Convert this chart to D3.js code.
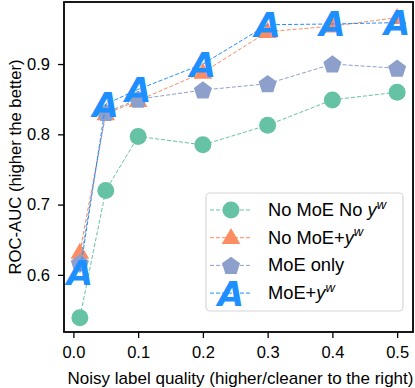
<!DOCTYPE html>
<html>
<head>
<meta charset="utf-8">
<script src="https://cdn.jsdelivr.net/npm/d3@7"></script>
<style>
  body { margin: 0; background: white; }
  text { font-family: "Liberation Sans", Arial, sans-serif; fill: black; }
</style>
</head>
<body>
<svg id="chart" width="415" height="388"></svg>
<script>
// noisy label quality
var xs = [0.01, 0.05, 0.1, 0.2, 0.3, 0.4, 0.5];
var noMoeNoYw = [0.539, 0.720, 0.797, 0.785, 0.813, 0.849, 0.860];
var noMoeYw   = [0.632, 0.829, 0.848, 0.888, 0.946, 0.954, 0.966];
var moeOnly   = [0.617, 0.831, 0.850, 0.863, 0.872, 0.900, 0.894];
var moeYw     = [0.603, 0.843, 0.864, 0.900, 0.956, 0.957, 0.959];
var xTicks = [0.0, 0.1, 0.2, 0.3, 0.4, 0.5];
var yTicks = [0.6, 0.7, 0.8, 0.9];

var series = [
  {name: "No MoE No ", sup: "w", values: noMoeNoYw, color: "#66c2a5", marker: "circle"},
  {name: "No MoE+", sup: "w", values: noMoeYw, color: "#fc8d62", marker: "triangle"},
  {name: "MoE only", sup: null, values: moeOnly, color: "#8da0cb", marker: "pentagon"},
  {name: "MoE+", sup: "w", values: moeYw, color: "#1e8fff", marker: "A"}
];

var svg = d3.select("#chart");
var pLeft = 64, pRight = 413, pTop = 2, pBottom = 332;

var x = d3.scaleLinear().domain([-0.0145, 0.5245]).range([pLeft, pRight]);
var y = d3.scaleLinear().domain([0.5187, 0.9883]).range([pBottom, pTop]);

// markers
function drawMarker(g, kind, color) {
  if (kind == "circle") {
    g.append("circle").attr("r", 8.5).attr("fill", color);
  }
  else if (kind == "triangle") {
    g.append("path").attr("d", d3.symbol().type(d3.symbolTriangle).size(150)).attr("fill", color)
      .attr("transform", "translate(0,1)");
  }
  else if (kind == "pentagon") {
    var pts = [];
    for (var i = 0; i < 5; i++) {
      var a = -Math.PI/2 + i*2*Math.PI/5;
      pts.push([9.5*Math.cos(a), 9.5*Math.sin(a) + 0.8]);
    }
    g.append("path").attr("d", "M" + pts.join("L") + "Z").attr("fill", color);
  }
  else {
    g.append("text")
      .attr("text-anchor", "middle")
      .attr("y", 12.5)
      .style("font-family", "DejaVu Sans")
      .style("font-weight", "bold")
      .style("font-style", "italic")
      .style("font-size", "34px")
      .style("fill", color)
      .text("A");
  }
}

var line = d3.line().x(function(d) { return x(d[0]); }).y(function(d) { return y(d[1]); });

series.forEach(function(s) {
  var pts = xs.map(function(v, i) { return [v, s.values[i]]; });
  svg.append("path")
    .attr("d", line(pts))
    .attr("fill", "none")
    .attr("stroke", s.color)
    .attr("stroke-width", 1)
    .attr("stroke-dasharray", "4,2");
  pts.forEach(function(p) {
    var g = svg.append("g").attr("transform", "translate(" + x(p[0]) + "," + y(p[1]) + ")");
    drawMarker(g, s.marker, s.color);
  });
});

// axes
var xAxis = svg.append("g").attr("transform", "translate(0," + pBottom + ")")
  .call(d3.axisBottom(x).tickValues(xTicks).tickFormat(d3.format(".1f")).tickSizeOuter(0).tickSize(6).tickPadding(8));
var yAxis = svg.append("g").attr("transform", "translate(" + pLeft + ",0)")
  .call(d3.axisLeft(y).tickValues(yTicks).tickFormat(d3.format(".1f")).tickSizeOuter(0).tickSize(6).tickPadding(8));
[xAxis, yAxis].forEach(function(a) {
  a.select(".domain").remove();
  a.selectAll("line").attr("stroke", "black").attr("stroke-width", 1.3);
  a.selectAll("text").style("font-family", "Liberation Sans, Arial, sans-serif").style("font-size", "16.5px");
});

svg.append("rect")
  .attr("x", pLeft).attr("y", pTop)
  .attr("width", pRight - pLeft).attr("height", pBottom - pTop)
  .attr("fill", "none").attr("stroke", "black").attr("stroke-width", 1.8);

svg.append("text")
  .attr("x", (pLeft + pRight)/2 + 2).attr("y", 384)
  .attr("text-anchor", "middle")
  .style("font-size", "17px")
  .text("Noisy label quality (higher/cleaner to the right)");

svg.append("text")
  .attr("transform", "translate(20.5," + ((pTop + pBottom)/2) + ") rotate(-90)")
  .attr("text-anchor", "middle")
  .style("font-size", "16.7px")
  .text("ROC-AUC (higher the better)");

// legend
var legend = svg.append("g");
legend.append("rect")
  .attr("x", 206).attr("y", 193).attr("width", 197).attr("height", 118)
  .attr("rx", 4).attr("ry", 4)
  .attr("fill", "white").attr("fill-opacity", 0.8)
  .attr("stroke", "#d6d6d6").attr("stroke-width", 1.2);

series.forEach(function(s, i) {
  var ly = 210 + i*27.7;
  legend.append("line")
    .attr("x1", 210).attr("x2", 252).attr("y1", ly).attr("y2", ly)
    .attr("stroke", s.color).attr("stroke-width", 1).attr("stroke-dasharray", "4,2");
  var g = legend.append("g").attr("transform", "translate(231," + ly + ")");
  drawMarker(g, s.marker, s.color);
  var t = legend.append("text")
    .attr("x", 268).attr("y", ly + 6)
    .style("font-size", "18.3px");
  t.append("tspan").text(s.name);
  if (s.sup) {
    t.append("tspan").style("font-style", "italic").text("y");
    t.append("tspan").attr("dy", -7.5).style("font-size", "13px").style("font-style", "italic").text(s.sup);
  }
});
</script>
</body>
</html>
